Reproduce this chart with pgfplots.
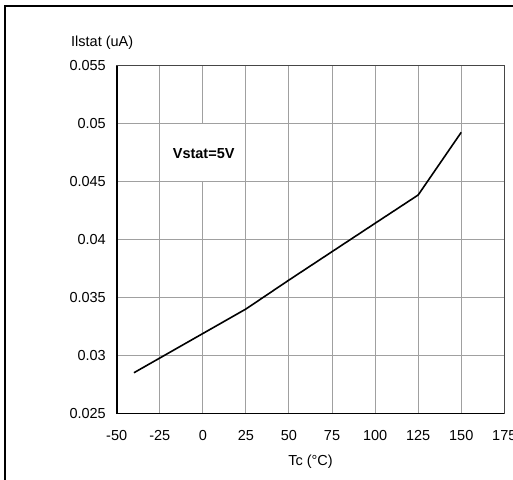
\documentclass[border=0pt]{standalone}
\usepackage{fontspec}
\setmainfont{Liberation Sans}
\usepackage{pgfplots}
\pgfplotsset{compat=1.18}

\definecolor{gridgray}{RGB}{160,160,160}
\definecolor{boxgray}{RGB}{70,70,70}

\begin{document}
\begin{tikzpicture}
\begin{axis}[
    at={(0,0)}, anchor=south west,
    scale only axis,
    width=387.6bp, height=347.6bp,
    font=\fontsize{14.5bp}{17bp}\selectfont,
    xmin=-50, xmax=175,
    ymin=0.025, ymax=0.055,
    scaled y ticks=false,
    scaled x ticks=false,
    xtick={-50,-25,0,25,50,75,100,125,150,175},
    xticklabels={-50,-25,0,25,50,75,100,125,150,175},
    ytick={0.025,0.03,0.035,0.04,0.045,0.05,0.055},
    yticklabels={0.025,0.03,0.035,0.04,0.045,0.05,0.055},
    tick style={draw=none},
    grid=major,
    major grid style={gridgray, line width=1bp},
    axis line style={boxgray, line width=1.2bp},
    xticklabel style={anchor=center, yshift=-22.7bp},
    yticklabel style={anchor=east, inner sep=0pt, xshift=-10.7bp},
    xlabel={Tc (°C)},
    xlabel style={at={(rel axis cs:0.5,0)}, anchor=center, yshift=-48.4bp},
    ylabel={Ilstat (uA)},
    ylabel style={at={(rel axis cs:0,1)}, rotate=-90, anchor=west, inner sep=0pt, xshift=-45.7bp, yshift=22.5bp},
    clip=false,
]
% white box behind the note
\fill[white] (axis cs:-24.6,0.04506) rectangle (axis cs:24.6,0.04994);
\node[font=\fontsize{14.5bp}{17bp}\selectfont\bfseries] at (axis cs:0.5,0.04745) {Vstat=5V};

\addplot[black, line width=1.6bp] coordinates {
    (-40, 0.0285)
    (25,  0.0340)
    (50,  0.0365)
    (75,  0.03895)
    (100, 0.0414)
    (125, 0.04384)
    (150, 0.04925)
};

% heavier left and bottom axis lines
\draw[black, line width=1.6bp] (rel axis cs:0,1) -- (rel axis cs:0,0) -- (rel axis cs:1,0);
\end{axis}

% outer frame (top and left only)
\draw[black, line width=2.2bp] (-111.7bp,-80bp) -- (-111.7bp,407.1bp) -- (410bp,407.1bp);

\pgfresetboundingbox
\path[use as bounding box] (-116.7bp,-66.7bp) rectangle (396.3bp,413.3bp);
\end{tikzpicture}
\end{document}
